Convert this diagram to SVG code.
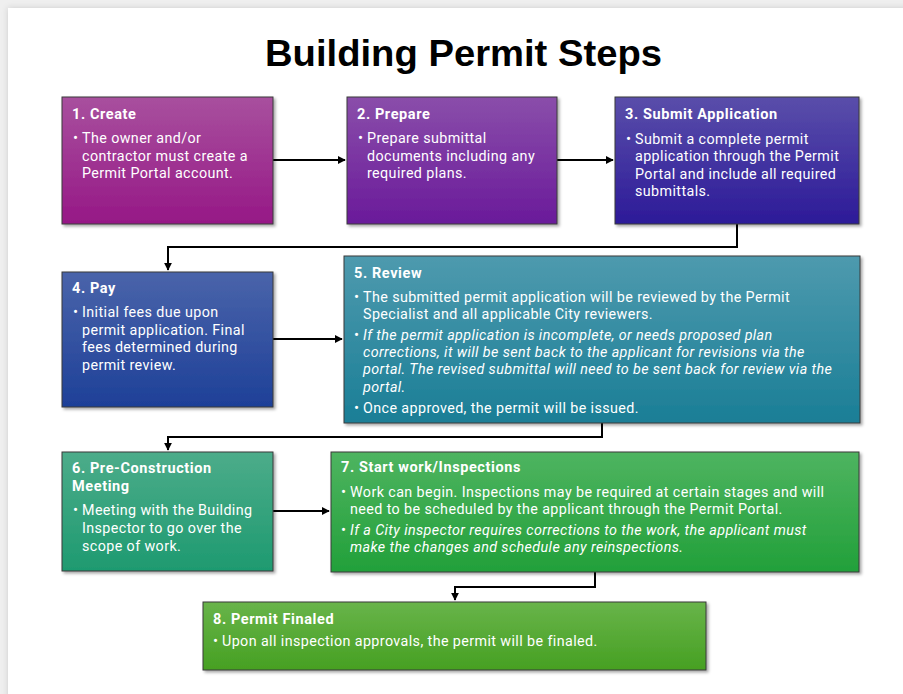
<svg xmlns="http://www.w3.org/2000/svg" width="903" height="694" viewBox="0 0 903 694">
<defs>
<style>
.box{stroke:#3a3a3a;stroke-width:1;filter:url(#sh)}
.t{font-family:Roboto,"Liberation Sans",sans-serif;font-weight:700;font-size:14.5px;letter-spacing:0.6px;fill:#ffffff}
.b{font-family:Roboto,"Liberation Sans",sans-serif;font-size:14.3px;letter-spacing:0.4px;fill:#ffffff}
.d{font-family:Roboto,"Liberation Sans",sans-serif;font-size:15px;fill:#ffffff}
.i{font-style:italic}
.c{fill:none;stroke:#000;stroke-width:2;marker-end:url(#ah)}
</style>
<filter id="sh" x="-5%" y="-5%" width="115%" height="120%"><feDropShadow dx="2" dy="2" stdDeviation="1.5" flood-color="#000" flood-opacity="0.35"/></filter>
<filter id="pg" x="-5%" y="-5%" width="110%" height="110%"><feDropShadow dx="0" dy="0" stdDeviation="3" flood-color="#000" flood-opacity="0.15"/></filter>
<marker id="ah" viewBox="0 0 10 10" refX="9" refY="5" markerWidth="4" markerHeight="4" orient="auto" markerUnits="strokeWidth"><path d="M0,0 L10,5 L0,10 z" fill="#000"/></marker>
<linearGradient id="g1" x1="0" y1="0" x2="0" y2="1"><stop offset="0" stop-color="#a8509e"/><stop offset="1" stop-color="#961886"/></linearGradient>
<linearGradient id="g2" x1="0" y1="0" x2="0" y2="1"><stop offset="0" stop-color="#8a4eaa"/><stop offset="1" stop-color="#6a1a9a"/></linearGradient>
<linearGradient id="g3" x1="0" y1="0" x2="0" y2="1"><stop offset="0" stop-color="#5a4eaa"/><stop offset="1" stop-color="#2c1a98"/></linearGradient>
<linearGradient id="g4" x1="0" y1="0" x2="0" y2="1"><stop offset="0" stop-color="#4a64aa"/><stop offset="1" stop-color="#1e4098"/></linearGradient>
<linearGradient id="g5" x1="0" y1="0" x2="0" y2="1"><stop offset="0" stop-color="#4e9aae"/><stop offset="1" stop-color="#1a7e96"/></linearGradient>
<linearGradient id="g6" x1="0" y1="0" x2="0" y2="1"><stop offset="0" stop-color="#4cac8a"/><stop offset="1" stop-color="#1e9a70"/></linearGradient>
<linearGradient id="g7" x1="0" y1="0" x2="0" y2="1"><stop offset="0" stop-color="#4eb460"/><stop offset="1" stop-color="#22a03a"/></linearGradient>
<linearGradient id="g8" x1="0" y1="0" x2="0" y2="1"><stop offset="0" stop-color="#68b44a"/><stop offset="1" stop-color="#46a022"/></linearGradient>
</defs>
<rect x="0" y="0" width="903" height="694" fill="#efefef"/>
<rect x="8" y="8" width="900" height="700" fill="#ffffff" filter="url(#pg)"/>
<text x="463.5" y="66" text-anchor="middle" font-family="Liberation Sans, Arial, sans-serif" font-weight="700" font-size="37" fill="#000" textLength="397" lengthAdjust="spacingAndGlyphs">Building Permit Steps</text>

<g id="connectors">
<path class="c" d="M273,160 H345"/>
<path class="c" d="M557,160 H613"/>
<path class="c" d="M737,224 V247 H168 V270"/>
<path class="c" d="M273,339 H342"/>
<path class="c" d="M602,423 V437 H168 V450"/>
<path class="c" d="M273,511 H329"/>
<path class="c" d="M595,572 V587 H455 V600"/>
</g>

<g id="step1">
<rect class="box" x="62" y="97" width="211" height="127" fill="url(#g1)"/>
<text class="t" x="72" y="119">1. Create</text>
<text class="d" x="73" y="143">•</text>
<text class="b" x="82" y="143">The owner and/or</text>
<text class="b" x="82" y="161">contractor must create a</text>
<text class="b" x="82" y="178">Permit Portal account.</text>
</g>

<g id="step2">
<rect class="box" x="347" y="97" width="210" height="127" fill="url(#g2)"/>
<text class="t" x="357" y="119">2. Prepare</text>
<text class="d" x="358" y="143">•</text>
<text class="b" x="367" y="143">Prepare submittal</text>
<text class="b" x="367" y="161">documents including any</text>
<text class="b" x="367" y="178">required plans.</text>
</g>

<g id="step3">
<rect class="box" x="615" y="97" width="244" height="127" fill="url(#g3)"/>
<text class="t" x="625" y="119">3. Submit Application</text>
<text class="d" x="626" y="144">•</text>
<text class="b" x="635" y="144">Submit a complete permit</text>
<text class="b" x="635" y="161">application through the Permit</text>
<text class="b" x="635" y="179">Portal and include all required</text>
<text class="b" x="635" y="196">submittals.</text>
</g>

<g id="step4">
<rect class="box" x="62" y="272" width="211" height="135" fill="url(#g4)"/>
<text class="t" x="72" y="293">4. Pay</text>
<text class="d" x="73" y="317">•</text>
<text class="b" x="82" y="317">Initial fees due upon</text>
<text class="b" x="82" y="335">permit application. Final</text>
<text class="b" x="82" y="352">fees determined during</text>
<text class="b" x="82" y="370">permit review.</text>
</g>

<g id="step5">
<rect class="box" x="344" y="256" width="516" height="167" fill="url(#g5)"/>
<text class="t" x="354" y="278">5. Review</text>
<text class="d" x="354" y="302">•</text>
<text class="b" x="363" y="302">The submitted permit application will be reviewed by the Permit</text>
<text class="b" x="363" y="319">Specialist and all applicable City reviewers.</text>
<text class="d" x="354" y="340">•</text>
<text class="b i" x="363" y="340">If the permit application is incomplete, or needs proposed plan</text>
<text class="b i" x="363" y="357">corrections, it will be sent back to the applicant for revisions via the</text>
<text class="b i" x="363" y="374">portal. The revised submittal will need to be sent back for review via the</text>
<text class="b i" x="363" y="392">portal.</text>
<text class="d" x="354" y="413">•</text>
<text class="b" x="363" y="413">Once approved, the permit will be issued.</text>
</g>

<g id="step6">
<rect class="box" x="62" y="452" width="211" height="119" fill="url(#g6)"/>
<text class="t" x="72" y="473">6. Pre-Construction</text>
<text class="t" x="72" y="491">Meeting</text>
<text class="d" x="73" y="515">•</text>
<text class="b" x="82" y="515">Meeting with the Building</text>
<text class="b" x="82" y="533">Inspector to go over the</text>
<text class="b" x="82" y="551">scope of work.</text>
</g>

<g id="step7">
<rect class="box" x="331" y="452" width="528" height="120" fill="url(#g7)"/>
<text class="t" x="341" y="472">7. Start work/Inspections</text>
<text class="d" x="341" y="497">•</text>
<text class="b" x="350" y="497">Work can begin. Inspections may be required at certain stages and will</text>
<text class="b" x="350" y="514">need to be scheduled by the applicant through the Permit Portal.</text>
<text class="d" x="341" y="535">•</text>
<text class="b i" x="350" y="535">If a City inspector requires corrections to the work, the applicant must</text>
<text class="b i" x="350" y="552">make the changes and schedule any reinspections.</text>
</g>

<g id="step8">
<rect class="box" x="203" y="602" width="503" height="68" fill="url(#g8)"/>
<text class="t" x="213" y="624">8. Permit Finaled</text>
<text class="d" x="213" y="646">•</text>
<text class="b" x="222" y="646">Upon all inspection approvals, the permit will be finaled.</text>
</g>
</svg>
